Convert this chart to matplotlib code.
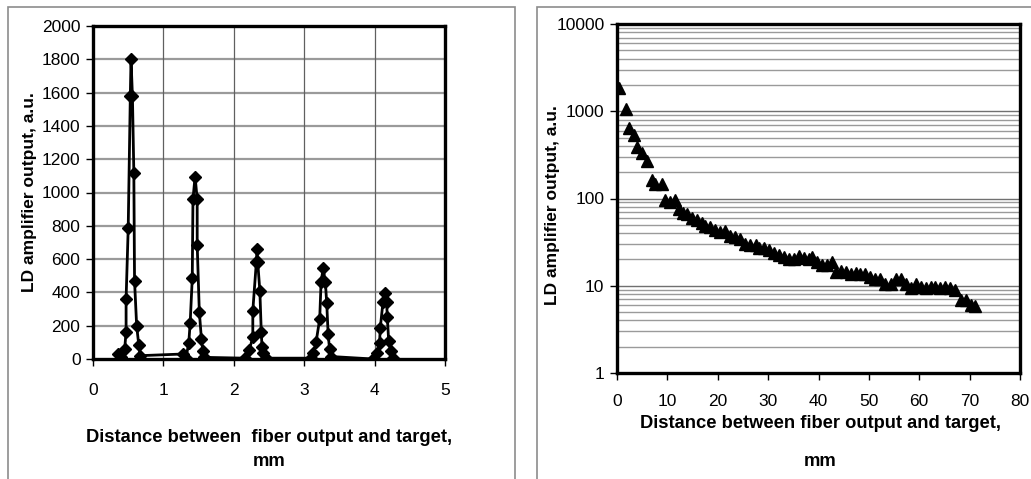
import numpy as np
import matplotlib
matplotlib.use("Agg")
import matplotlib.pyplot as plt
from matplotlib.patches import Rectangle

plt.rcParams['font.family'] = ['Liberation Sans', 'DejaVu Sans']

# Panneau gauche : balayage fin autour des pics (mm, u.a.)
dist_fine = [0.36, 0.40, 0.45, 0.47, 0.47, 0.50, 0.53, 0.54, 0.56, 0.58, 0.59, 0.62, 0.65, 0.67,
             1.28, 1.32, 1.36, 1.38, 1.41, 1.42, 1.45, 1.48, 1.48, 1.51, 1.54, 1.56, 1.57,
             2.16, 2.22, 2.27, 2.27, 2.32, 2.33, 2.34, 2.37, 2.39, 2.40, 2.42, 2.46,
             3.09, 3.13, 3.17, 3.22, 3.24, 3.27, 3.30, 3.32, 3.34, 3.36, 3.38,
             3.98, 4.03, 4.07, 4.08, 4.12, 4.15, 4.17, 4.18, 4.20, 4.23, 4.26]
signal_fine = [30, 15, 60, 165, 360, 785, 1580, 1800, 1580, 1120, 470, 200, 85, 20,
               30, 5, 95, 215, 485, 960, 1095, 960, 685, 285, 120, 50, 10,
               5, 55, 130, 290, 580, 660, 580, 410, 165, 75, 35, 5,
               5, 35, 105, 240, 465, 545, 465, 335, 150, 60, 15,
               0, 35, 95, 185, 345, 395, 345, 255, 110, 50, 5]

# Panneau droit : décroissance sur grande distance (échelle log)
dist_long = [0.3, 1.7, 2.4, 3.3, 4.0, 5.0, 6.0, 7.0, 7.6, 8.9, 9.6, 10.6, 11.6, 12.3, 13.2,
             13.9, 14.9, 15.9, 16.9, 17.5, 18.5, 19.5, 20.5, 21.5, 22.5, 23.5, 24.5, 25.5,
             26.5, 27.5, 28.1, 29.1, 30.1, 31.1, 32.1, 33.1, 34.1, 35.1, 36.1, 37.1, 38.1,
             38.7, 39.7, 40.7, 41.7, 42.7, 43.4, 44.4, 45.4, 46.4, 47.4, 48.3, 49.3, 50.3,
             51.3, 52.3, 53.3, 54.3, 55.3, 56.3, 57.3, 58.3, 59.3, 60.3, 61.3, 62.3, 63.2,
             64.2, 65.2, 66.2, 67.1, 68.2, 69.2, 70.2, 71.0]
signal_long = [1830, 1050, 650, 540, 390, 335, 270, 162, 148, 148, 97, 91, 95, 75, 68,
               67, 60, 56, 52, 49, 47, 43, 41, 42, 37, 36, 34, 30,
               29, 29, 27, 27, 26, 24, 22.4, 21.4, 20.5, 20.5, 21.8, 21, 20.5,
               21.4, 18.8, 17.5, 17.5, 18.8, 14.4, 14.8, 14.4, 13.8, 14, 13.8, 13.8, 12.6,
               11.8, 11.8, 10.6, 10.6, 12, 11.8, 10.6, 9.5, 10.4, 9.7, 9.5, 9.7, 9.7,
               9.5, 9.7, 9.3, 8.9, 6.8, 6.8, 6.0, 5.8]

xlabel_left = 'Distance between  fiber output and target,'
xlabel_right = 'Distance between fiber output and target,'
ylabel = 'LD amplifier output, a.u.'

W, H = 1031, 479
fig = plt.figure(figsize=(W / 100, H / 100), dpi=100)


def fx(px):
    return px / W


def fy(py):
    return 1 - py / H


# cadres des deux panneaux
for x0, x1 in [(8, 515), (537, 1040)]:
    fig.patches.append(Rectangle((fx(x0), fy(490)), fx(x1 - x0), (490 - 7) / H,
                                 transform=fig.transFigure, fill=False,
                                 edgecolor='#8c8c8c', lw=1.2))

tick_fs = 12.5
lab_fs = 12.5
xlab_fs = 13.2

# ---- panneau gauche ----
ax1 = fig.add_axes([fx(93), fy(359), fx(445 - 93), (359 - 26) / H])
ax1.plot(dist_fine, signal_fine, color='black', lw=2.0, marker='D', markersize=6.5, zorder=3)
ax1.set_xlim(0, 5)
ax1.set_ylim(0, 2000)
ax1.set_xticks(range(0, 6))
ax1.set_yticks(range(0, 2001, 200))
for y in range(200, 2000, 200):
    ax1.axhline(y, color='#9a9a9a', lw=1.6, zorder=1)
for x in range(1, 5):
    ax1.axvline(x, color='#606060', lw=0.9, zorder=1)
ax1.tick_params(direction='out', length=5, width=1, labelsize=tick_fs)
ax1.tick_params(axis='x', pad=12)
ax1.tick_params(axis='y', pad=4)
for s in ax1.spines.values():
    s.set_linewidth(2.4)
fig.text(fx(30), fy(192), ylabel, rotation=90, ha='center', va='center',
         fontsize=lab_fs, fontweight='bold')
fig.text(fx(269), fy(437), xlabel_left, ha='center', va='center', fontsize=xlab_fs, fontweight='bold')
fig.text(fx(269), fy(461), 'mm', ha='center', va='center', fontsize=xlab_fs, fontweight='bold')

# ---- panneau droit ----
ax2 = fig.add_axes([fx(617), fy(373), fx(1020 - 617), (373 - 24) / H])
ax2.plot(dist_long, signal_long, linestyle='none', color='black', marker='^', markersize=9, zorder=3)
ax2.set_yscale('log')
ax2.set_xlim(0, 80)
ax2.set_ylim(1, 10000)
ax2.set_xticks(range(0, 81, 10))
ax2.set_yticks([1, 10, 100, 1000, 10000])
ax2.set_yticklabels(['1', '10', '100', '1000', '10000'])
ax2.yaxis.set_minor_locator(matplotlib.ticker.NullLocator())
for dec in [1, 10, 100, 1000]:
    for k in range(1, 10):
        y = dec * k
        if y == 1:
            continue
        ax2.axhline(y, color='#707070' if k == 1 else '#9a9a9a', lw=1.0, zorder=1)
ax2.tick_params(direction='out', length=5, width=1, labelsize=tick_fs)
ax2.tick_params(axis='x', pad=10)
ax2.tick_params(axis='y', pad=4)
for s in ax2.spines.values():
    s.set_linewidth(2.4)
fig.text(fx(553), fy(205), ylabel, rotation=90, ha='center', va='center',
         fontsize=lab_fs, fontweight='bold')
fig.text(fx(820), fy(423), xlabel_right, ha='center', va='center', fontsize=xlab_fs, fontweight='bold')
fig.text(fx(820), fy(462), 'mm', ha='center', va='center', fontsize=xlab_fs, fontweight='bold')

fig.savefig('out.png', dpi=100)
